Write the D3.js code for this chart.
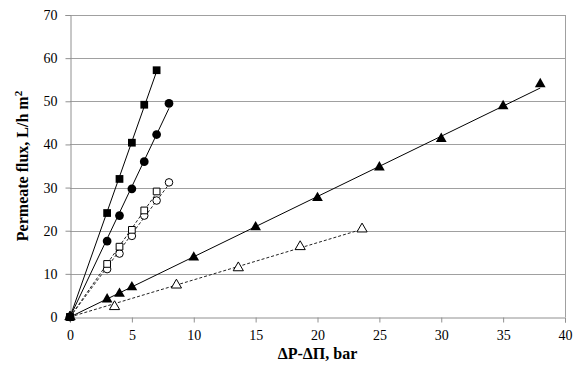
<!DOCTYPE html>
<html>
<head>
<meta charset="utf-8">
<script src="https://cdn.jsdelivr.net/npm/d3@7"></script>
<style>
  body { margin: 0; background: #fff; }
</style>
</head>
<body>
<div id="chart"></div>
<script>
// data
var sqFilledX = [0, 3, 4, 5, 6, 7];
var sqFilledY = [0, 24.1, 32.0, 40.4, 49.2, 57.2];
var ciFilledX = [0, 3, 4, 5, 6, 7, 8];
var ciFilledY = [0, 17.6, 23.5, 29.7, 36.0, 42.3, 49.5];
var sqOpenX = [0, 3, 4, 5, 6, 7];
var sqOpenY = [0, 12.3, 16.3, 20.2, 24.7, 29.1];
var ciOpenX = [0, 3, 4, 5, 6, 7, 8];
var ciOpenY = [0, 11.1, 14.7, 18.8, 23.5, 27.0, 31.2];
var trFilledX = [0, 3, 4, 5, 10, 15, 20, 25, 30, 35, 38];
var trFilledY = [0, 4.1, 5.4, 6.9, 13.8, 20.8, 27.6, 34.7, 41.3, 48.9, 54.0];
var trOpenX = [0, 3.6, 8.6, 13.6, 18.6, 23.6];
var trOpenY = [0, 2.4, 7.4, 11.4, 16.3, 20.4];

var xTicks = [0, 5, 10, 15, 20, 25, 30, 35, 40];
var yTicks = [0, 10, 20, 30, 40, 50, 60, 70];

var FONT = "'Liberation Serif', 'Times New Roman', serif";

var margin = {top: 15, right: 9, bottom: 61, left: 70},
    width = 574 - margin.left - margin.right,
    height = 378 - margin.top - margin.bottom;

var svg = d3.select("#chart")
    .append("svg")
    .attr("width", 574)
    .attr("height", 378)
    .append("g")
    .attr("transform", "translate(" + margin.left + "," + margin.top + ")");

var x = d3.scaleLinear().domain([0, 40]).range([0, width]);
var y = d3.scaleLinear().domain([0, 70]).range([height, 0]);

// gridlines
svg.selectAll("grid")
    .data(yTicks.slice(1))
    .enter()
    .append("line")
    .attr("x1", 0)
    .attr("x2", width)
    .attr("y1", function (d) { return Math.round(y(d)) + 0.5; })
    .attr("y2", function (d) { return Math.round(y(d)) + 0.5; })
    .attr("stroke", "#a0a0a0");

// right border
svg.append("line")
    .attr("x1", width + 0.5).attr("x2", width + 0.5)
    .attr("y1", 0).attr("y2", height)
    .attr("stroke", "#a0a0a0");

// axes
var xAxis = svg.append("g")
    .attr("transform", "translate(0," + (Math.round(height) + 0.5) + ")")
    .call(d3.axisBottom(x).tickValues(xTicks).tickSize(5).tickPadding(8));
var yAxis = svg.append("g")
    .attr("transform", "translate(0.5,0)")
    .call(d3.axisLeft(y).tickValues(yTicks).tickSize(5).tickPadding(8));

[xAxis, yAxis].forEach(function (a) {
    a.attr("font-family", FONT).attr("font-size", 14);
    a.select(".domain").attr("stroke", "#909090");
    a.selectAll(".tick line").attr("stroke", "#909090");
    a.selectAll("text")
        .style("font-family", FONT)
        .style("font-size", "14px")
        .attr("fill", "#000");
});

// axis titles
svg.append("text")
    .attr("x", x(20))
    .attr("y", height + 42)
    .attr("text-anchor", "middle")
    .style("font-family", FONT)
    .style("font-size", "16px")
    .style("font-weight", "bold")
    .text("ΔP-ΔΠ, bar");

svg.append("text")
    .attr("transform", "translate(-42," + (height / 2) + ") rotate(-90)")
    .attr("text-anchor", "middle")
    .style("font-family", FONT)
    .style("font-size", "16px")
    .style("font-weight", "bold")
    .text("Permeate flux, L/h m")
    .append("tspan")
    .attr("dy", -6)
    .style("font-size", "11px")
    .text("2");

// trendline through origin (least squares)
function slope(xs, ys) {
    var sxy = d3.sum(xs, function (v, i) { return v * ys[i]; });
    var sxx = d3.sum(xs, function (v) { return v * v; });
    return sxy / sxx;
}

var series = [
    {xs: trOpenX, ys: trOpenY, shape: d3.symbolTriangle, size: 45, filled: false, dashed: true},
    {xs: trFilledX, ys: trFilledY, shape: d3.symbolTriangle, size: 50, filled: true, dashed: false},
    {xs: ciOpenX, ys: ciOpenY, shape: d3.symbolCircle, size: 45, filled: false, dashed: true},
    {xs: sqOpenX, ys: sqOpenY, shape: d3.symbolSquare, size: 45, filled: false, dashed: true},
    {xs: ciFilledX, ys: ciFilledY, shape: d3.symbolCircle, size: 60, filled: true, dashed: false},
    {xs: sqFilledX, ys: sqFilledY, shape: d3.symbolSquare, size: 60, filled: true, dashed: false}
];

series.forEach(function (s) {
    var k = slope(s.xs, s.ys);
    var xmax = d3.max(s.xs);
    svg.append("line")
        .attr("x1", x(0)).attr("y1", y(0))
        .attr("x2", x(xmax)).attr("y2", y(k * xmax))
        .attr("stroke", s.dashed ? "#222" : "#000")
        .attr("stroke-width", 1)
        .attr("stroke-dasharray", s.dashed ? "3,2" : null);

    svg.selectAll("pt")
        .data(s.xs.map(function (v, i) { return [v, s.ys[i]]; }))
        .enter()
        .append("path")
        .attr("d", d3.symbol().type(s.shape).size(s.size))
        .attr("transform", function (d) {
            return "translate(" + x(d[0]) + "," + y(d[1]) + ")";
        })
        .attr("fill", s.filled ? "#000" : "#fff")
        .attr("stroke", "#000")
        .attr("stroke-width", s.filled ? 0 : 1);
});
</script>
</body>
</html>
